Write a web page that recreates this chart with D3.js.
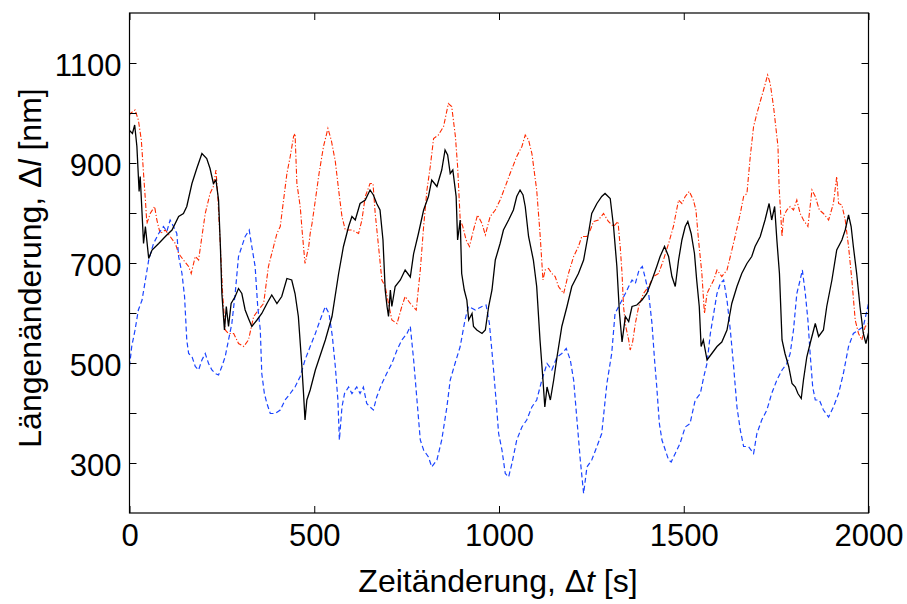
<!DOCTYPE html>
<html>
<head>
<meta charset="utf-8">
<script src="https://cdn.jsdelivr.net/npm/d3@7"></script>
<style>
  html, body { margin: 0; padding: 0; background: #fff; }
  svg { display: block; }
  text { font-family: "Liberation Sans", Arial, Helvetica, sans-serif; fill: #000; }
</style>
</head>
<body>
<svg id="chart" width="907" height="604"></svg>
<script>
// ---- data ----
const blackT = [0,8,14,20,26,29,34,38,43,52,61,79,97,115,133,146,155,169,182,196,209,218,227,234,241,246,250,257,262,268,275,286,295,304,313,322,331,345,358,372,385,399,412,426,439,448,457,466,471,475,480,489,503,521,530,548,566,579,593,602,611,624,638,651,660,669,678,686,692,697,701,706,710,719,733,746,760,769,782,796,809,818,832,845,854,861,868,875,884,888,895,899,906,913,918,927,931,940,954,963,972,981,990,1003,1012,1026,1039,1048,1057,1065,1071,1080,1093,1102,1111,1119,1124,1130,1139,1148,1157,1170,1184,1197,1215,1229,1242,1251,1265,1278,1287,1301,1310,1319,1326,1333,1342,1351,1360,1373,1387,1400,1414,1427,1436,1448,1459,1468,1477,1486,1495,1504,1511,1520,1529,1535,1542,1547,1553,1563,1576,1590,1603,1617,1630,1644,1657,1671,1684,1693,1707,1720,1731,1738,1746,1752,1759,1766,1774,1784,1793,1802,1809,1818,1824,1833,1842,1856,1865,1878,1887,1901,1914,1928,1937,1946,1953,1959,1968,1977,1986,1993,2000];
const blackV = [965,959,976,933,843,873,799,739,773,709,726,739,753,766,793,799,813,859,889,919,909,889,859,866,826,733,639,566,613,573,619,633,649,639,606,589,573,586,599,619,636,619,633,669,666,639,593,499,439,386,426,446,486,526,546,593,679,733,773,793,786,819,826,846,836,819,806,746,646,613,593,646,613,653,666,686,672,719,759,806,833,866,853,886,926,916,879,886,833,746,786,679,646,626,586,599,573,566,559,566,613,646,706,739,766,786,806,833,846,836,813,753,706,653,546,466,412,452,426,466,512,573,613,653,679,706,759,799,819,833,839,829,773,693,600,542,593,583,613,616,626,639,666,693,713,733,713,673,653,706,746,773,783,759,719,666,613,533,546,506,519,533,542,566,619,653,679,699,713,733,753,786,819,786,813,746,679,546,519,493,459,452,439,429,466,512,539,579,553,566,613,666,726,746,766,796,773,733,679,613,559,539,560];

const redT = [0,2,15,24,32,38,43,47,56,68,74,83,97,110,124,133,146,160,167,178,187,196,205,218,227,234,239,246,252,259,268,282,295,309,322,336,349,363,376,385,399,408,417,426,435,444,448,453,462,467,475,485,489,494,503,513,525,537,546,557,566,575,584,602,620,629,638,651,659,665,674,683,692,701,710,724,737,746,760,776,787,796,805,814,823,836,850,863,872,882,888,895,902,911,920,931,942,954,963,976,990,1003,1017,1030,1048,1062,1071,1080,1089,1102,1111,1119,1125,1134,1143,1152,1161,1175,1188,1202,1215,1224,1238,1247,1256,1269,1283,1296,1310,1322,1328,1333,1337,1343,1351,1355,1361,1369,1378,1391,1405,1418,1432,1445,1459,1472,1486,1495,1504,1515,1526,1533,1540,1549,1556,1563,1572,1581,1590,1603,1617,1626,1639,1653,1662,1671,1680,1689,1698,1707,1716,1727,1734,1743,1749,1755,1758,1766,1770,1779,1788,1797,1806,1815,1824,1836,1847,1856,1867,1878,1892,1905,1914,1919,1928,1937,1946,1955,1964,1973,1982,1991,2000];
const redV = [995,999,1006,986,946,879,826,779,799,813,786,759,766,753,739,719,706,693,679,713,706,753,799,839,853,886,833,733,639,566,559,559,539,533,546,593,606,619,693,719,759,773,826,879,913,953,959,859,813,766,699,733,759,779,826,879,933,969,946,903,846,793,766,766,759,786,833,859,859,799,733,666,653,619,586,579,613,633,619,606,686,773,846,893,949,956,973,1019,1013,953,893,786,773,746,733,766,796,779,756,793,806,826,853,879,913,933,956,946,919,846,759,666,686,689,679,673,653,639,679,713,733,753,753,766,783,786,799,783,773,783,733,679,613,573,546,526,539,579,613,639,653,673,679,706,739,773,826,819,833,843,826,806,746,679,599,639,653,666,686,673,686,713,753,799,833,839,913,973,999,1023,1046,1076,1059,1013,973,933,853,753,793,806,813,806,826,799,786,773,846,833,806,799,786,819,873,819,816,786,733,666,586,559,546,573,579];

const blueT = [0,6,15,24,34,43,52,65,79,92,101,110,119,128,133,142,149,155,160,169,178,187,196,205,214,223,232,241,250,259,268,277,286,295,304,313,324,331,340,347,354,358,365,372,381,394,408,421,435,448,462,475,489,503,516,530,540,549,557,564,568,575,582,593,602,615,624,633,642,651,660,669,683,696,710,724,737,751,760,769,778,787,796,809,818,832,845,859,868,881,895,908,917,936,954,965,974,983,992,999,1008,1017,1026,1035,1048,1062,1075,1089,1102,1116,1130,1143,1157,1170,1182,1193,1202,1211,1220,1229,1238,1251,1265,1278,1292,1305,1314,1324,1333,1342,1351,1360,1369,1379,1388,1397,1405,1414,1421,1427,1434,1441,1450,1459,1466,1477,1490,1504,1517,1531,1545,1554,1563,1572,1581,1590,1599,1608,1617,1626,1635,1644,1653,1662,1675,1689,1698,1711,1725,1738,1752,1766,1779,1788,1797,1806,1815,1821,1829,1836,1842,1849,1856,1867,1878,1892,1905,1919,1932,1946,1959,1973,1986,2000];
const blueV = [493,533,566,606,626,666,706,739,759,773,763,786,773,759,713,679,633,546,519,513,493,486,506,519,499,486,479,476,493,513,546,579,639,713,733,753,766,733,693,613,566,479,439,419,399,399,406,426,439,452,473,506,533,559,586,613,599,553,493,426,346,412,439,452,439,452,439,452,419,412,406,432,459,479,499,526,546,559,573,506,426,346,326,312,292,306,346,412,466,499,533,586,613,606,613,616,579,506,426,359,326,279,272,299,346,372,386,412,426,466,499,486,512,519,529,506,466,386,306,239,292,306,333,359,459,519,599,613,626,639,653,666,659,686,693,666,639,579,506,452,379,346,326,306,302,319,339,372,379,426,439,472,499,559,599,639,659,666,626,566,493,412,366,333,333,319,359,386,406,439,466,486,499,519,566,639,666,686,639,586,519,452,426,426,406,392,412,439,479,533,559,566,573,619];

const xTicks = [0, 500, 1000, 1500, 2000];
const yTicks = [300, 400, 500, 600, 700, 800, 900, 1000, 1100];
const yTickLabels = [300, 500, 700, 900, 1100];

// ---- layout ----
const L = 129.5, R = 868.5, T = 13, B = 513;
const FONT = '"Liberation Sans", Arial, Helvetica, sans-serif';
const svg = d3.select("#chart");
const x = d3.scaleLinear().domain([0, 2000]).range([L, R]);
const y = d3.scaleLinear().domain([200, 1200]).range([B, T]);

svg.append("clipPath").attr("id", "clip")
  .append("rect").attr("x", L).attr("y", T).attr("width", R - L).attr("height", B - T);

const line = d3.line().x(d => x(d[0])).y(d => y(d[1]));
const zip = (a, b) => a.map((t, i) => [t, b[i]]);

const g = svg.append("g").attr("clip-path", "url(#clip)");
g.append("path").datum(zip(redT, redV)).attr("d", line)
  .attr("fill", "none").attr("stroke", "#ff2a00").attr("stroke-width", 1.1)
  .attr("stroke-dasharray", "5,2,1.2,2");
g.append("path").datum(zip(blueT, blueV)).attr("d", line)
  .attr("fill", "none").attr("stroke", "#1a44ff").attr("stroke-width", 1.2)
  .attr("stroke-dasharray", "5,3");
g.append("path").datum(zip(blackT, blackV)).attr("d", line)
  .attr("fill", "none").attr("stroke", "#000").attr("stroke-width", 1.3);

// ---- axes (inward ticks, all four sides) ----
const tl = 7;
const fmt = d3.format("d");
const axL = d3.axisLeft(y).tickValues(yTicks).tickSizeInner(-tl).tickSizeOuter(0)
  .tickFormat(d => yTickLabels.includes(d) ? fmt(d) : "").tickPadding(8);
const axR = d3.axisRight(y).tickValues(yTicks).tickSizeInner(-tl).tickSizeOuter(0).tickFormat("");
const axB = d3.axisBottom(x).tickValues(xTicks).tickSizeInner(-tl).tickSizeOuter(0)
  .tickFormat(fmt).tickPadding(11);
const axT = d3.axisTop(x).tickValues(xTicks).tickSizeInner(-tl).tickSizeOuter(0).tickFormat("");

function style(sel) {
  sel.select(".domain").remove();
  sel.selectAll(".tick line").attr("stroke", "#000").attr("stroke-width", 1);
  sel.selectAll(".tick text").attr("font-size", 31)
    .attr("font-family", FONT).attr("fill", "#000");
}
svg.append("g").attr("transform", `translate(${L},0)`).call(axL).call(style)
  .selectAll(".tick text").attr("dy", "0.4em");
svg.append("g").attr("transform", `translate(${R},0)`).call(axR).call(style);
svg.append("g").attr("transform", `translate(0,${B})`).call(axB).call(style);
svg.append("g").attr("transform", `translate(0,${T})`).call(axT).call(style);

// frame
svg.append("rect").attr("x", L).attr("y", T).attr("width", R - L).attr("height", B - T)
  .attr("fill", "none").attr("stroke", "#000").attr("stroke-width", 1.2);

// ---- axis titles ----
const xt = svg.append("text").attr("x", 498).attr("y", 592)
  .attr("text-anchor", "middle").attr("font-size", 32);
xt.append("tspan").text("Zeitänderung, Δ");
xt.append("tspan").attr("font-style", "italic").text("t");
xt.append("tspan").text(" [s]");

const yt = svg.append("text")
  .attr("transform", `translate(41,268) rotate(-90)`)
  .attr("text-anchor", "middle").attr("font-size", 32);
yt.append("tspan").text("Längenänderung, Δ");
yt.append("tspan").attr("font-style", "italic").text("l");
yt.append("tspan").text(" [nm]");
</script>
</body>
</html>
